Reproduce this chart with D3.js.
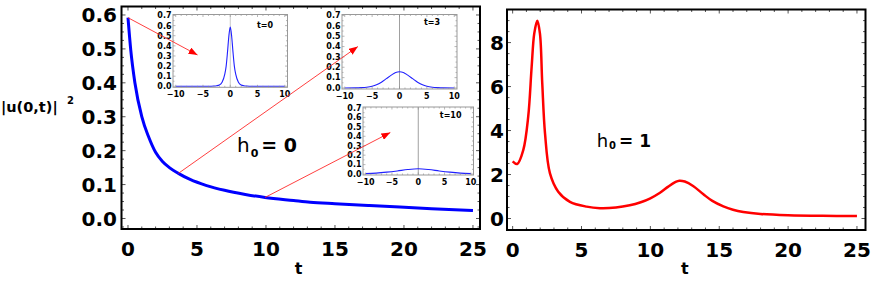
<!DOCTYPE html>
<html>
<head>
<meta charset="utf-8">
<script src="https://cdn.jsdelivr.net/npm/d3@7"></script>
<style>
  body { margin: 0; background: #fff; }
  svg { display: block; }
  text { font-family: "DejaVu Sans", sans-serif; }
</style>
</head>
<body>
<script>
// ---- data ----
// left panel: |u(0,t)|^2, h0 = 0
const leftT = [0, 0.2, 0.5, 1, 1.5, 2, 2.5, 3, 3.65, 4.5, 5.7, 7, 8.5, 9.93, 12, 13.2, 15, 17.5, 19.7, 22, 25];
const leftV = [0.592, 0.497, 0.40, 0.30, 0.24, 0.195, 0.168, 0.150, 0.133, 0.115, 0.097, 0.083, 0.071, 0.062, 0.053, 0.048, 0.0435, 0.038, 0.0335, 0.029, 0.0235];

// right panel: h0 = 1
const rightT = [0, 0.33, 0.77, 1.13, 1.38, 1.57, 1.79, 1.98, 2.15, 2.35, 2.71, 3.31, 4.16, 5.37, 6.34, 7.5, 8.5, 9.3, 10, 10.7, 11.3, 11.8, 12.1, 12.5, 13.1, 13.85, 14.5, 15.3, 16, 16.75, 18, 20, 22.5, 25];
const rightV = [2.6, 2.48, 3.11, 4.63, 6.9, 8.42, 8.99, 8.42, 6.15, 3.87, 2.05, 1.22, 0.76, 0.54, 0.47, 0.50, 0.60, 0.74, 0.92, 1.17, 1.45, 1.65, 1.72, 1.68, 1.48, 1.1, 0.8, 0.55, 0.4, 0.3, 0.21, 0.15, 0.12, 0.11];

// insets: profile |u(x,t)|^2 at t = 0, 3, 10
const inset0X = [-10, -4, -3, -2.5, -2, -1.5, -1, -0.75, -0.5, -0.25, 0, 0.25, 0.5, 0.75, 1, 1.5, 2, 2.5, 3, 4, 10];
const inset0V = [0, 0.001, 0.003, 0.006, 0.013, 0.04, 0.12, 0.2, 0.34, 0.5, 0.585, 0.5, 0.34, 0.2, 0.12, 0.04, 0.013, 0.006, 0.003, 0.001, 0];
const inset3X = [-10, -8, -7, -6, -5, -4.2, -3.3, -2.4, -1.5, -0.7, 0, 0.7, 1.5, 2.4, 3.3, 4.2, 5, 6, 7, 8, 10];
const inset3V = [0, 0.001, 0.003, 0.007, 0.016, 0.03, 0.056, 0.09, 0.124, 0.15, 0.157, 0.15, 0.124, 0.09, 0.056, 0.03, 0.016, 0.007, 0.003, 0.001, 0];
const inset10X = [-10, -8, -6, -4, -2, 0, 2, 4, 6, 8, 10];
const inset10V = [0.004, 0.01, 0.02, 0.033, 0.048, 0.056, 0.048, 0.033, 0.02, 0.01, 0.004];

const insetLabels = ['t=0', 't=3', 't=10'];
const insetLabelPos = [[4.9, 0.576], [4.47, 0.608], [4.1, 0.59]];

// arrows: from a point on the main curve (t, value) to a point in an inset (x, value)
const arrowFrom = [[0, 0.592], [3.65, 0.133], [9.93, 0.062]];
const arrowTo = [[-6.0, 0.31], [-7.6, 0.4], [-5.3, 0.44]];

const leftXTicks = [0, 5, 10, 15, 20, 25];
const leftYTicks = [0, 0.1, 0.2, 0.3, 0.4, 0.5, 0.6];
const rightYTicks = [0, 2, 4, 6, 8];
const insetXTicks = [-10, -5, 0, 5, 10];
const insetYTicks = [0, 0.1, 0.2, 0.3, 0.4, 0.5, 0.6, 0.7];

// ---- layout ----
const W = 872, H = 299;
const LEFT = { x0: 121.5, x1: 480, y0: 6.5, y1: 229 };
const RIGHT = { x0: 507, x1: 865.5, y0: 9.5, y1: 230 };
const INSETS = [
    { x0: 173, x1: 287.5, y0: 14.5, y1: 87.3 },
    { x0: 342, x1: 457, y0: 14.5, y1: 89 },
    { x0: 363, x1: 473.5, y0: 107, y1: 175 }
];
const TICK_FONT = '20px';

const svg = d3.select('body').append('svg')
    .attr('width', W)
    .attr('height', H);

const defs = svg.append('defs');
defs.append('marker')
    .attr('id', 'arrowhead')
    .attr('markerUnits', 'userSpaceOnUse')
    .attr('viewBox', '0 0 9 7')
    .attr('refX', 9)
    .attr('refY', 3.5)
    .attr('markerWidth', 9)
    .attr('markerHeight', 7)
    .attr('orient', 'auto')
  .append('path')
    .attr('d', 'M0,0 L9,3.5 L0,7 Z')
    .attr('fill', '#ff0000');

// frame with inward ticks on all four sides
function drawFrame(g, box, x, y, xMajor, xMinor, yMajor, yMinor, opts) {
    const majLen = opts.majLen, minLen = opts.minLen;
    const tg = g.append('g').attr('stroke', opts.tickColor).attr('stroke-width', opts.tickWidth);
    const inside = (v, s) => s(v) >= Math.min(...s.range()) - 0.1 && s(v) <= Math.max(...s.range()) + 0.1;
    const xs = d3.range(Math.ceil(x.domain()[0] / xMinor) * xMinor, x.domain()[1] + 1e-9, xMinor);
    xs.filter(v => inside(v, x)).forEach(v => {
        const isMajor = Math.abs(v / xMajor - Math.round(v / xMajor)) < 1e-6;
        const len = isMajor ? majLen : minLen;
        tg.append('line').attr('x1', x(v)).attr('x2', x(v)).attr('y1', box.y1).attr('y2', box.y1 - len);
        tg.append('line').attr('x1', x(v)).attr('x2', x(v)).attr('y1', box.y0).attr('y2', box.y0 + len);
    });
    const ys = d3.range(Math.ceil(y.domain()[0] / yMinor) * yMinor, y.domain()[1] + 1e-9, yMinor);
    ys.filter(v => inside(v, y)).forEach(v => {
        const isMajor = Math.abs(v / yMajor - Math.round(v / yMajor)) < 1e-6;
        const len = isMajor ? majLen : minLen;
        tg.append('line').attr('y1', y(v)).attr('y2', y(v)).attr('x1', box.x0).attr('x2', box.x0 + len);
        tg.append('line').attr('y1', y(v)).attr('y2', y(v)).attr('x1', box.x1).attr('x2', box.x1 - len);
    });
    g.append('rect')
        .attr('x', box.x0).attr('y', box.y0)
        .attr('width', box.x1 - box.x0).attr('height', box.y1 - box.y0)
        .attr('fill', 'none')
        .attr('stroke', opts.frameColor)
        .attr('stroke-width', opts.frameWidth);
}

const mainOpts = { majLen: 4, minLen: 2.5, tickColor: '#555', tickWidth: 1, frameColor: '#000', frameWidth: 2 };
const insetOpts = { majLen: 2.5, minLen: 1.5, tickColor: '#888', tickWidth: 0.6, frameColor: '#999', frameWidth: 1 };

// ---- left panel ----
const xL = d3.scaleLinear().domain([-0.47, 25.51]).range([LEFT.x0, LEFT.x1]);
const yL = d3.scaleLinear().domain([-0.031, 0.625]).range([LEFT.y1, LEFT.y0]);
const gL = svg.append('g');

gL.append('path')
    .datum(d3.zip(leftT, leftV))
    .attr('d', d3.line().x(d => xL(d[0])).y(d => yL(d[1])).curve(d3.curveMonotoneX))
    .attr('fill', 'none')
    .attr('stroke', '#0000ff')
    .attr('stroke-width', 3);

drawFrame(gL, LEFT, xL, yL, 5, 1, 0.1, 0.025, mainOpts);

gL.selectAll('.ytick').data(leftYTicks).enter().append('text')
    .attr('x', LEFT.x0 - 4.5)
    .attr('y', d => yL(d))
    .attr('dy', '0.36em')
    .attr('text-anchor', 'end')
    .style('font-size', TICK_FONT).style('font-weight', 'bold')
    .text(d3.format('.1f'));

gL.selectAll('.xtick').data(leftXTicks).enter().append('text')
    .attr('x', d => xL(d))
    .attr('y', LEFT.y1 + 27)
    .attr('text-anchor', 'middle')
    .style('font-size', TICK_FONT).style('font-weight', 'bold')
    .text(d => d);

gL.append('text')
    .attr('x', xL(12.5) - 2).attr('y', 274)
    .attr('text-anchor', 'middle')
    .style('font-size', '16px').style('font-weight', 'bold')
    .text('t');

svg.append('text').attr('x', 1).attr('y', 112)
    .style('font-size', '14.5px').style('font-weight', 'bold')
    .text('|u(0,t)|');
svg.append('text').attr('x', 67).attr('y', 104)
    .style('font-size', '10px').style('font-weight', 'bold')
    .text('2');

// h0 = 0 label
const hL = gL.append('text')
    .attr('x', xL(7.9)).attr('y', yL(0.195));
hL.append('tspan').style('font-size', '20px').text('h');
hL.append('tspan').attr('dy', 5).attr('dx', 1).style('font-size', '11px').style('font-weight', 'bold').text('0');
hL.append('tspan').attr('dy', -5).attr('dx', 3).style('font-size', '19px').style('font-weight', 'bold').text('= 0');

// ---- insets ----
const insetData = [[inset0X, inset0V], [inset3X, inset3V], [inset10X, inset10V]];
const insetScales = INSETS.map(box => ({
    x: d3.scaleLinear().domain([-10.5, 10.5]).range([box.x0, box.x1]),
    y: d3.scaleLinear().domain([-0.01, 0.71]).range([box.y1, box.y0])
}));

INSETS.forEach((box, i) => {
    const g = svg.append('g');
    const x = insetScales[i].x, y = insetScales[i].y;
    g.append('rect')
        .attr('x', box.x0).attr('y', box.y0)
        .attr('width', box.x1 - box.x0).attr('height', box.y1 - box.y0)
        .attr('fill', '#fff');
    g.append('line')
        .attr('x1', x(0)).attr('x2', x(0)).attr('y1', box.y0).attr('y2', box.y1)
        .attr('stroke', i === 0 ? '#c8c8c8' : '#a0a0a0')
        .attr('stroke-width', 1);
    g.append('path')
        .datum(d3.zip(insetData[i][0], insetData[i][1]))
        .attr('d', d3.line().x(d => x(d[0])).y(d => y(d[1])).curve(d3.curveMonotoneX))
        .attr('fill', 'none')
        .attr('stroke', '#2020ff')
        .attr('stroke-width', 1.1);
    drawFrame(g, box, x, y, 5, 1, 0.1, 0.05, insetOpts);
    g.selectAll('.iy').data(insetYTicks).enter().append('text')
        .attr('x', box.x0 - 1.5)
        .attr('y', d => y(d))
        .attr('dy', '0.36em')
        .attr('text-anchor', 'end')
        .style('font-size', '8px').style('font-weight', 'bold')
        .text(d3.format('.1f'));
    g.selectAll('.ix').data(insetXTicks).enter().append('text')
        .attr('x', d => x(d))
        .attr('y', box.y1 + 9.5)
        .attr('text-anchor', 'middle')
        .style('font-size', '8px').style('font-weight', 'bold')
        .text(d3.format('d'));
    g.append('text')
        .attr('x', x(insetLabelPos[i][0]))
        .attr('y', y(insetLabelPos[i][1]))
        .style('font-size', '8px').style('font-weight', 'bold')
        .text(insetLabels[i]);
});

// ---- arrows ----
arrowFrom.forEach((from, i) => {
    const s = insetScales[i];
    svg.append('line')
        .attr('x1', xL(from[0])).attr('y1', yL(from[1]))
        .attr('x2', s.x(arrowTo[i][0])).attr('y2', s.y(arrowTo[i][1]))
        .attr('stroke', '#ff2a2a')
        .attr('stroke-width', 0.9)
        .attr('marker-end', 'url(#arrowhead)');
});

// ---- right panel ----
const xR = d3.scaleLinear().domain([-0.41, 25.62]).range([RIGHT.x0, RIGHT.x1]);
const yR = d3.scaleLinear().domain([-0.523, 9.505]).range([RIGHT.y1, RIGHT.y0]);
const gR = svg.append('g');

gR.append('path')
    .datum(d3.zip(rightT, rightV))
    .attr('d', d3.line().x(d => xR(d[0])).y(d => yR(d[1])).curve(d3.curveCatmullRom.alpha(0.5)))
    .attr('fill', 'none')
    .attr('stroke', '#ff0000')
    .attr('stroke-width', 2.5);

drawFrame(gR, RIGHT, xR, yR, 5, 1, 2, 0.5, mainOpts);

gR.selectAll('.ytick').data(rightYTicks).enter().append('text')
    .attr('x', RIGHT.x0 - 3)
    .attr('y', d => yR(d))
    .attr('dy', '0.36em')
    .attr('text-anchor', 'end')
    .style('font-size', TICK_FONT).style('font-weight', 'bold')
    .text(d => d);

gR.selectAll('.xtick').data(leftXTicks).enter().append('text')
    .attr('x', d => xR(d))
    .attr('y', RIGHT.y1 + 27)
    .attr('text-anchor', 'middle')
    .style('font-size', TICK_FONT).style('font-weight', 'bold')
    .text(d => d);

gR.append('text')
    .attr('x', xR(12.5)).attr('y', 274)
    .attr('text-anchor', 'middle')
    .style('font-size', '16px').style('font-weight', 'bold')
    .text('t');

const hR = gR.append('text')
    .attr('x', xR(6.1)).attr('y', yR(3.26));
hR.append('tspan').style('font-size', '18px').text('h');
hR.append('tspan').attr('dy', 2).attr('dx', 1).style('font-size', '10px').style('font-weight', 'bold').text('0');
hR.append('tspan').attr('dy', -2).attr('dx', 3).style('font-size', '17px').style('font-weight', 'bold').text('= 1');
</script>
</body>
</html>
